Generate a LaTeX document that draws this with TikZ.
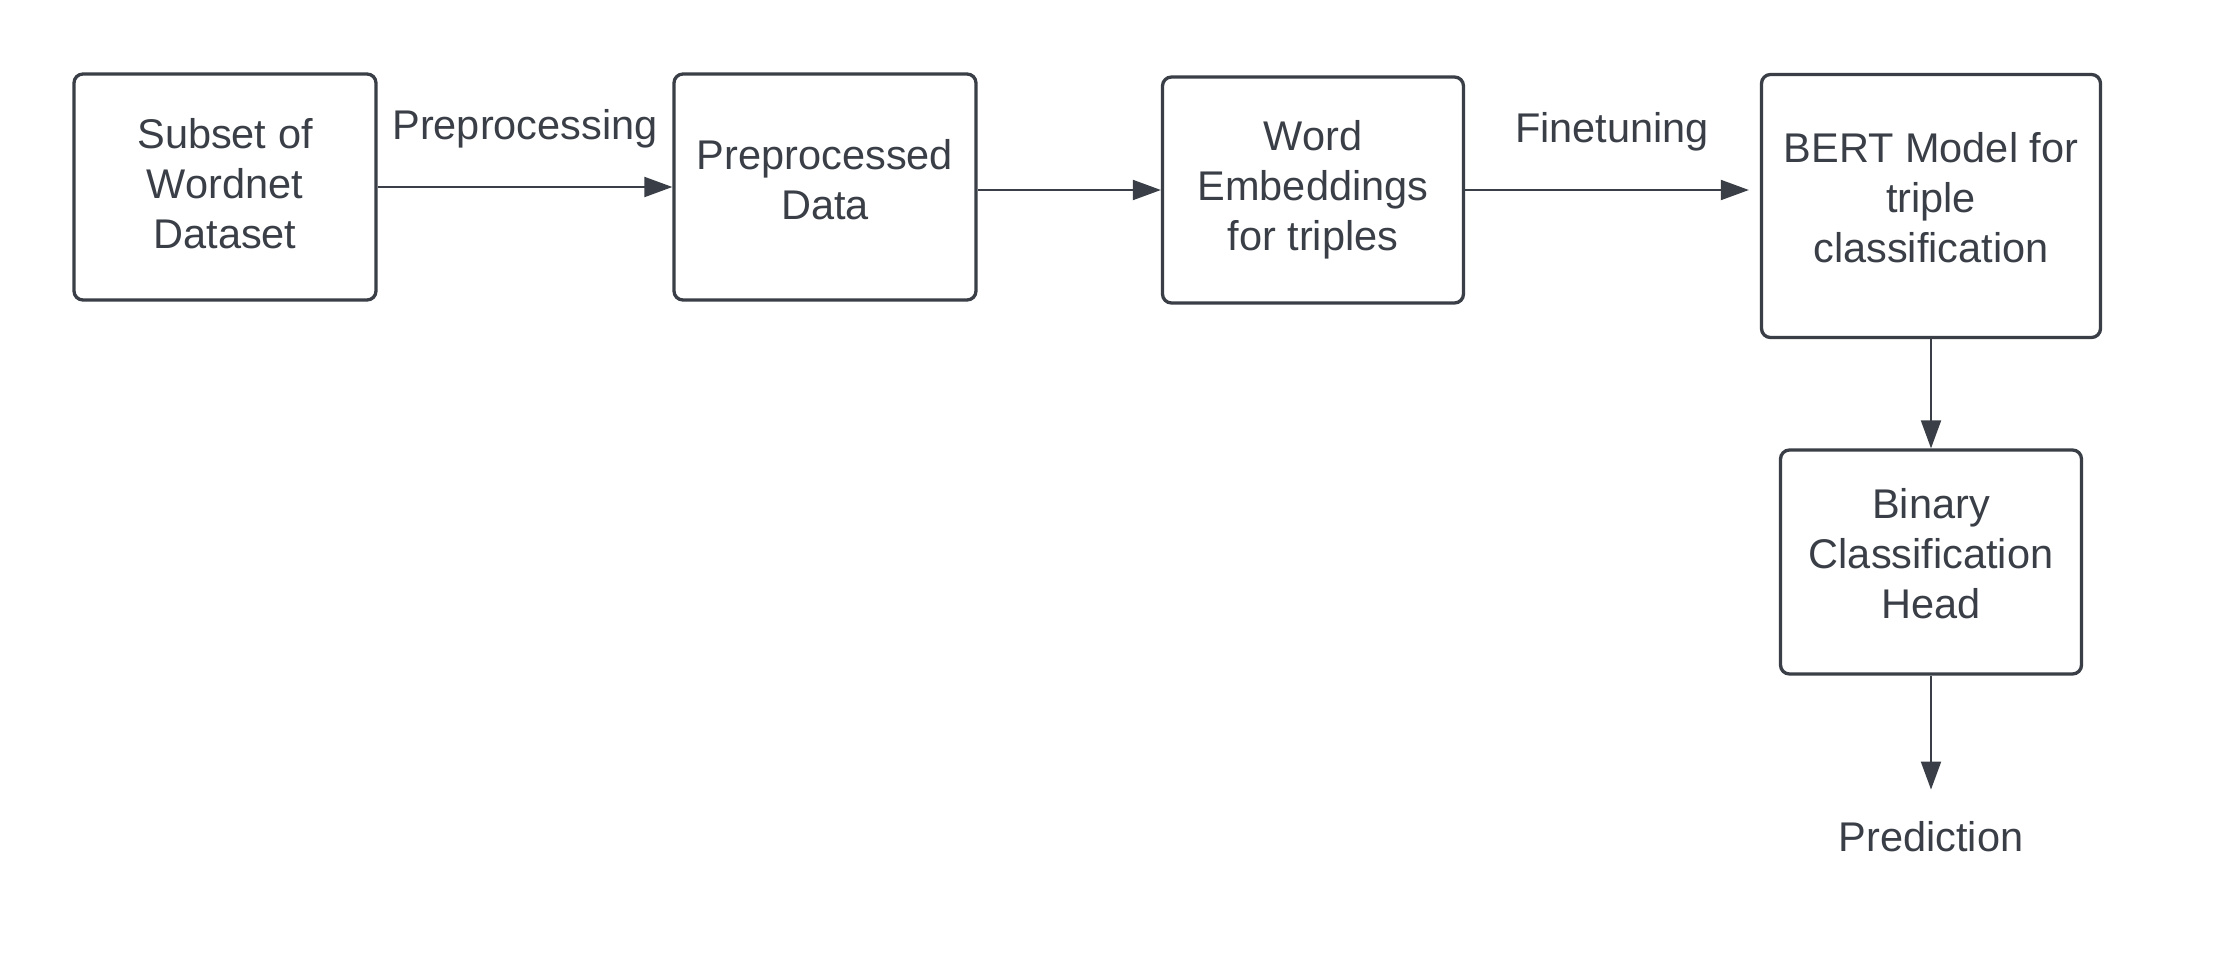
\documentclass[tikz,border=0pt]{standalone}
\usepackage{fontspec}
\setmainfont{Liberation Sans}
\usetikzlibrary{arrows.meta}
\definecolor{ink}{HTML}{3A3F47}
\begin{document}
\begin{tikzpicture}[x=1pt,y=-1pt,
  box/.style={draw=ink, line width=3.3pt, rounded corners=9pt, inner sep=0pt},
  txt/.style={text=ink, align=center, inner sep=0pt, font=\fontsize{41.5}{50}\selectfont},
  arr/.style={draw=ink, line width=2pt, -{Triangle[length=28pt,width=20pt]}},
  lbl/.style={text=ink, inner sep=0pt, font=\fontsize{41.5}{50}\selectfont}]
\useasboundingbox (0,0) rectangle (2231,975);
\fill[white] (0,0) rectangle (2231,975);
\node[box, minimum width=302pt, minimum height=226pt] (b1) at (225,187) {};
\node[box, minimum width=302pt, minimum height=226pt] (b2) at (825,187) {};
\node[box, minimum width=301pt, minimum height=226pt] (b3) at (1313,190) {};
\node[box, minimum width=339pt, minimum height=263pt] (b4) at (1931,206) {};
\node[box, minimum width=301pt, minimum height=224pt] (b5) at (1931,562) {};
\node[txt] (t1) at ([yshift=3.5pt]b1.center) {Subset of\\Wordnet\\Dataset};
\node[txt] (t2) at ([yshift=7pt]b2.center) {Preprocessed\\Data};
\node[txt] (t3) at (b3.center) {Word\\Embeddings\\for triples};
\node[txt] (t4) at ([yshift=8.5pt]b4.center) {BERT Model for\\triple\\classification};
\node[txt] (t5) at ([yshift=8.5pt]b5.center) {Binary\\Classification\\Head};
\node[lbl] (pred) at (1931,837) {Prediction};
\node[lbl] (l1) at (525,129) {Preprocessing};
\node[lbl] (l2) at (1612,132) {Finetuning};
\draw[arr] (b1.east) -- (b2.west);
\draw[arr] (b2.east |- b3.west) -- (b3.west);
\draw[arr, shorten >=11pt] (b3.east) -- (b3.east -| b4.west);
\draw[arr] (b4.south) -- (b5.north);
\draw[arr, shorten >=32pt] (b5.south) -- (pred.north);
\end{tikzpicture}
\end{document}
